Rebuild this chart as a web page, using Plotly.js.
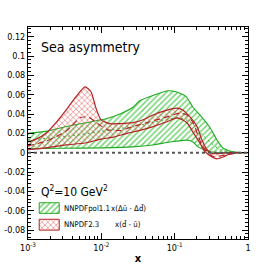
<!DOCTYPE html>
<html>
<head>
<meta charset="utf-8">
<script src="https://cdn.plot.ly/plotly-3.0.1.min.js"></script>
<style>html,body{margin:0;padding:0;background:#fff;}#chart{width:276px;height:267px;}</style>
</head>
<body>
<div id="chart"></div>
<script>
// NNPDFpol1.1  x(Δū - Δd̄)
const polUpperX = [0.001, 0.00176, 0.0033, 0.00616, 0.0116, 0.018, 0.027, 0.0337, 0.054, 0.0812, 0.104, 0.143, 0.178, 0.221, 0.303, 0.378, 0.456, 0.624, 1];
const polUpperY = [0.020, 0.022, 0.027, 0.031, 0.035, 0.040, 0.047, 0.054, 0.060, 0.064, 0.063, 0.058, 0.047, 0.039, 0.026, 0.013, 0.005, 0.001, 0];
const polLowerX = [0.001, 0.00273, 0.0099, 0.027, 0.0507, 0.0863, 0.147, 0.178, 0.208, 0.276, 0.378, 1];
const polLowerY = [0.004, 0.0045, 0.005, 0.006, 0.008, 0.011, 0.013, 0.011, 0.006, 0.002, 0, 0];
const polCentralX = [0.001, 0.0045, 0.0099, 0.027, 0.054, 0.104, 0.143, 0.178, 0.221, 0.303, 0.42, 0.624, 1];
const polCentralY = [0.013, 0.018, 0.022, 0.027, 0.032, 0.036, 0.034, 0.029, 0.021, 0.011, 0.003, 0.0005, 0];

// NNPDF2.3  x(d̄ - ū)
const nnUpperX = [0.001, 0.00129, 0.00176, 0.00241, 0.0033, 0.00452, 0.006, 0.00723, 0.00846, 0.0099, 0.0131, 0.018, 0.027, 0.037, 0.0507, 0.0787, 0.108, 0.13, 0.162, 0.202, 0.236, 0.276, 0.333, 0.517, 1];
const nnUpperY = [0.011, 0.014, 0.020, 0.031, 0.044, 0.058, 0.068, 0.063, 0.046, 0.034, 0.030, 0.030, 0.031, 0.034, 0.039, 0.044, 0.046, 0.044, 0.037, 0.027, 0.013, 0.003, -0.001, 0, 0];
const nnLowerX = [0.001, 0.00176, 0.0033, 0.006, 0.0099, 0.0144, 0.0224, 0.0337, 0.0507, 0.0787, 0.108, 0.147, 0.178, 0.221, 0.259, 0.323, 0.378, 0.456, 0.569, 0.778, 1];
const nnLowerY = [0.003, 0.005, 0.008, 0.010, 0.014, 0.016, 0.020, 0.023, 0.027, 0.032, 0.036, 0.031, 0.021, 0.010, 0.001, -0.0045, -0.0065, -0.0045, -0.0013, 0, 0];
const nnCentralX = [0.001, 0.00176, 0.0033, 0.00512, 0.00658, 0.00901, 0.0119, 0.018, 0.027, 0.0461, 0.0787, 0.118, 0.147, 0.178, 0.208, 0.243, 0.333, 0.517, 0.778, 1];
const nnCentralY = [0.007, 0.012, 0.022, 0.036, 0.037, 0.030, 0.024, 0.023, 0.027, 0.032, 0.037, 0.041, 0.039, 0.031, 0.018, 0.006, -0.004, -0.002, 0, 0];

// axis ticks
const xTickVals = [0.001, 0.01, 0.1, 1];
const xTickText = ['10<sup>-3</sup>', '10<sup>-2</sup>', '10<sup>-1</sup>', '1'];
const xMinorVals = [];
[0.001, 0.01, 0.1].forEach(d => { for (let k = 2; k <= 9; k++) xMinorVals.push(d * k); });
const yTickVals = [-0.08, -0.06, -0.04, -0.02, 0, 0.02, 0.04, 0.06, 0.08, 0.1, 0.12];
const yTickText = ['-0.08', '-0.06', '-0.04', '-0.02', '0', '0.02', '0.04', '0.06', '0.08', '0.1', '0.12'];

// legend labels
const polLabel = 'NNPDFpol1.1';
const polQuantity = 'x(Δū - Δd̄)';
const nnLabel = 'NNPDF2.3';
const nnQuantity = 'x(d̄ - ū)';

function band(ux, uy, lx, ly) {
  return { x: ux.concat(lx.slice().reverse()), y: uy.concat(ly.slice().reverse()) };
}
const polBand = band(polUpperX, polUpperY, polLowerX, polLowerY);
const nnBand = band(nnUpperX, nnUpperY, nnLowerX, nnLowerY);

const green = '#22aa22';
const red = '#b22222';
const greenPattern = { shape: '/', fgcolor: '#66d066', bgcolor: 'rgba(255,255,255,0)', size: 4, solidity: 0.35 };
const redPattern = { shape: 'x', fgcolor: '#e35a5a', bgcolor: 'rgba(255,255,255,0)', size: 4, solidity: 0.25 };

// legend glyph boxes (on an overlay axis with 0..1 range)
function box(x0, x1, y0, y1) { return { x: [x0, x1, x1, x0, x0], y: [y0, y0, y1, y1, y0] }; }
const gBox = box(0.051, 0.142, 0.121, 0.171);
const rBox = box(0.051, 0.142, 0.042, 0.093);

const traces = [
  { x: polBand.x, y: polBand.y, type: 'scatter', mode: 'lines', fill: 'toself', showlegend: false,
    line: { color: green, width: 1.1, shape: 'spline', smoothing: 0.6 },
    fillcolor: 'rgba(0,0,0,0)', fillpattern: greenPattern },
  { x: polCentralX, y: polCentralY, type: 'scatter', mode: 'lines', showlegend: false,
    line: { color: green, width: 1, dash: '2px,3px', shape: 'spline', smoothing: 0.6 } },
  { x: nnBand.x, y: nnBand.y, type: 'scatter', mode: 'lines', fill: 'toself', showlegend: false,
    line: { color: red, width: 1.2, shape: 'spline', smoothing: 0.6 },
    fillcolor: 'rgba(0,0,0,0)', fillpattern: redPattern },
  { x: nnCentralX, y: nnCentralY, type: 'scatter', mode: 'lines', showlegend: false,
    line: { color: red, width: 1.1, dash: '6px,4px', shape: 'spline', smoothing: 0.6 } },
  { x: gBox.x, y: gBox.y, xaxis: 'x2', yaxis: 'y2', type: 'scatter', mode: 'lines', fill: 'toself', showlegend: false,
    line: { color: green, width: 1 }, fillcolor: 'rgba(0,0,0,0)', fillpattern: greenPattern },
  { x: rBox.x, y: rBox.y, xaxis: 'x2', yaxis: 'y2', type: 'scatter', mode: 'lines', fill: 'toself', showlegend: false,
    line: { color: red, width: 1 }, fillcolor: 'rgba(0,0,0,0)', fillpattern: redPattern }
];

const font = '"Liberation Sans Narrow", "DejaVu Sans Condensed", "Liberation Sans", Arial, sans-serif';
function label(text, x, y, size) {
  return { text: text, xref: 'paper', yref: 'paper', x: x, y: y, xanchor: 'left', yanchor: 'middle',
           showarrow: false, borderpad: 0, font: { size: size, family: font, color: '#000' } };
}
const layout = {
  width: 276, height: 267,
  margin: { l: 28, r: 28, t: 27, b: 28, pad: 0 },
  paper_bgcolor: '#fff', plot_bgcolor: '#fff',
  font: { family: font, color: '#000', size: 9 },
  showlegend: false,
  xaxis: { type: 'log', range: [-3, 0], showgrid: false, zeroline: false,
           showline: true, linecolor: '#000', linewidth: 1, mirror: 'allticks',
           ticks: 'inside', ticklen: 6, tickcolor: '#000', tickwidth: 1,
           tickmode: 'array', tickvals: xTickVals, ticktext: xTickText,
           tickfont: { size: 9 },
           minor: { tickmode: 'array', tickvals: xMinorVals, ticks: 'inside', ticklen: 3, tickcolor: '#000', showgrid: false },
           title: { text: '<b>x</b>', font: { size: 11 }, standoff: 2 } },
  yaxis: { range: [-0.0893, 0.13], showgrid: false, zeroline: false,
           showline: true, linecolor: '#000', linewidth: 1, mirror: 'allticks',
           ticks: 'inside', ticklen: 6, tickcolor: '#000', tickwidth: 1,
           tickmode: 'array', tickvals: yTickVals, ticktext: yTickText,
           tickfont: { size: 9 },
           minor: { dtick: 0.004, tick0: 0, ticks: 'inside', ticklen: 3, tickcolor: '#000', showgrid: false } },
  xaxis2: { overlaying: 'x', range: [0, 1], visible: false, anchor: 'y2', fixedrange: true },
  yaxis2: { overlaying: 'y', range: [0, 1], visible: false, anchor: 'x2', fixedrange: true },
  shapes: [
    { type: 'line', xref: 'paper', x0: 0, x1: 1, yref: 'y', y0: 0, y1: 0,
      line: { color: '#555', width: 2, dash: 'dot' }, layer: 'above' }
  ],
  annotations: [
    label('Sea asymmetry', 0.055, 0.905, 14),
    label('Q<sup>2</sup>=10 GeV<sup>2</sup>', 0.055, 0.228, 12),
    label(polLabel, 0.158, 0.146, 7.8),
    label(polQuantity, 0.372, 0.146, 7.8),
    label(nnLabel, 0.158, 0.068, 7.8),
    label(nnQuantity, 0.39, 0.068, 7.8)
  ]
};

Plotly.newPlot('chart', traces, layout, { displayModeBar: false, staticPlot: true });
</script>
</body>
</html>
